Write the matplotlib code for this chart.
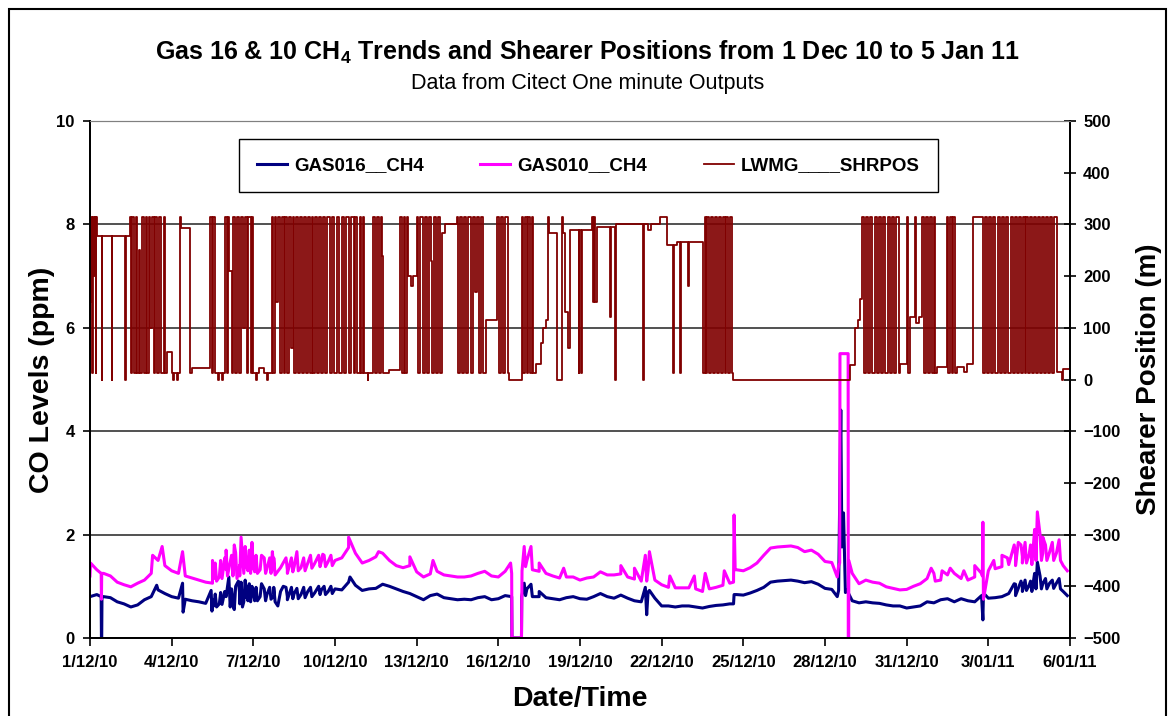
import numpy as np
import matplotlib.pyplot as plt
from matplotlib.patches import Rectangle

plt.rcParams['font.family'] = ['Liberation Sans', 'DejaVu Sans']
plt.rcParams['mathtext.fontset'] = 'custom'
plt.rcParams['mathtext.rm'] = 'Liberation Sans'
plt.rcParams['mathtext.bf'] = 'Liberation Sans:bold'

# x axis: days since 1 Dec 2010 00:00
tick_days = [0, 3, 6, 9, 12, 15, 18, 21, 24, 27, 30, 33, 36]
tick_labels = ['1/12/10', '4/12/10', '7/12/10', '10/12/10', '13/12/10', '16/12/10',
               '19/12/10', '22/12/10', '25/12/10', '28/12/10', '31/12/10', '3/01/11', '6/01/11']

# gas readings every 6 hours (one row per day)
gas_step = 0.25
gas016_base = [
    0.80, 0.84, 0.80, 0.78,  0.70, 0.66, 0.60, 0.64,  0.74, 0.80, 0.93, 0.86,
    0.80, 0.77, 0.75, 0.72,  0.70, 0.67, 0.74, 0.66,  0.80, 0.72, 0.85, 0.78,
    0.87, 0.80, 0.84, 0.82,  0.90, 0.80, 0.86, 0.84,  0.90, 0.87, 0.93, 0.90,
    0.95, 0.93, 1.08, 1.02,  0.92, 0.95, 0.96, 1.04,  1.00, 0.95, 0.90, 0.86,
    0.80, 0.74, 0.82, 0.85,  0.78, 0.76, 0.74, 0.75,  0.74, 0.78, 0.80, 0.74,
    0.76, 0.82, 0.00, 0.00,  0.82, 0.80, 0.80, 0.78,  0.76, 0.74, 0.78, 0.80,
    0.76, 0.75, 0.80, 0.86,  0.80, 0.77, 0.83, 0.77,  0.72, 0.70, 0.89, 0.77,
    0.62, 0.62, 0.60, 0.62,  0.62, 0.60, 0.58, 0.61,  0.63, 0.64, 0.66, 0.84,
    0.83, 0.87, 0.92, 0.98,  1.08, 1.10, 1.11, 1.12,  1.10, 1.07, 1.09, 1.04,
    0.96, 0.94, 0.92, 0.88,  0.72, 0.68, 0.70, 0.68,  0.67, 0.64, 0.62, 0.62,
    0.58, 0.60, 0.62, 0.70,  0.68, 0.74, 0.76, 0.70,  0.76, 0.72, 0.70, 0.82,
    0.77, 0.78, 0.80, 0.86,  1.04, 1.00, 1.02, 1.15,  1.05, 1.06, 1.06, 0.90,
]
gas010_base = [
    1.20, 1.32, 1.25, 1.20,  1.08, 1.03, 0.99, 1.06,  1.12, 1.25, 1.50, 1.40,
    1.30, 1.25, 1.20, 1.16,  1.12, 1.08, 1.06, 1.18,  1.32, 1.30, 1.41, 1.38,
    1.36, 1.32, 1.34, 1.32,  1.36, 1.32, 1.38, 1.36,  1.45, 1.44, 1.48, 1.48,
    1.50, 1.55, 1.75, 1.64,  1.45, 1.50, 1.57, 1.64,  1.50, 1.40, 1.36, 1.40,
    1.28, 1.18, 1.24, 1.29,  1.22, 1.20, 1.18, 1.18,  1.20, 1.25, 1.29, 1.20,
    1.18, 1.29, 0.00, 0.00,  1.38, 1.32, 1.29, 1.25,  1.20, 1.16, 1.18, 1.18,
    1.12, 1.16, 1.18, 1.28,  1.22, 1.22, 1.24, 1.18,  1.14, 1.10, 1.30, 1.12,
    1.03, 0.98, 0.97, 0.97,  0.97, 0.95, 0.90, 0.95,  0.98, 1.02, 1.06, 1.32,
    1.30, 1.36, 1.45, 1.60,  1.74, 1.76, 1.77, 1.78,  1.75, 1.67, 1.70, 1.62,
    1.48, 1.46, 1.40, 5.50,  1.25, 1.05, 1.12, 1.08,  1.06, 0.99, 0.96, 0.93,
    0.94, 1.00, 1.05, 1.15,  1.25, 1.12, 1.22, 1.25,  1.15, 1.12, 1.18, 1.25,
    1.30, 1.34, 1.38, 1.42,  1.60, 1.58, 1.62, 1.80,  1.64, 1.66, 1.64, 1.40,
]

# spikes, drop-outs, noisy stretches and the end of each record
gas016_extra_day = [0.41, 0.42, 0.43, 0.44, 2.45, 3.40, 3.42, 4.45, 4.48, 5.10, 5.15,
                    5.30, 5.45, 5.60, 5.75, 6.30, 6.90, 7.10, 9.55,
                    4.55, 4.60, 4.65, 4.80, 4.85, 4.95, 5.20, 5.25, 5.35, 5.50, 5.55,
                    5.65, 5.70, 5.80, 5.85, 5.90, 5.95, 6.05, 6.10, 6.15, 6.40, 6.45,
                    6.60, 6.65, 6.75, 6.80, 7.20, 7.25, 7.40, 7.45, 7.60, 7.65, 7.85,
                    7.90, 8.10, 8.15, 8.40, 8.45, 8.60, 8.65, 8.85, 8.90,
                    15.49, 15.50, 15.85, 15.86, 15.95, 16.05, 16.20, 16.50,
                    20.40, 20.45, 20.55, 23.64, 23.66,
                    27.45, 27.58, 27.62, 27.68, 27.80, 32.80, 32.82,
                    33.95, 34.00, 34.20, 34.25, 34.35, 34.40, 34.55, 34.60, 34.70,
                    34.75, 34.80, 34.90, 34.95, 35.10, 35.15, 35.35, 35.40, 35.60,
                    35.65, 35.90]
gas016_extra_val = [0.80, 0.00, 0.00, 0.80, 1.02, 1.06, 0.50, 0.92, 0.52, 1.18, 0.60,
                    0.55, 1.10, 0.60, 1.00, 1.05, 0.62, 1.00, 1.18,
                    0.62, 0.85, 0.60, 0.88, 0.65, 0.90, 0.95, 0.62, 1.00, 0.66, 1.08,
                    0.70, 1.12, 0.72, 1.05, 0.70, 1.00, 0.72, 0.98, 0.72, 0.95, 0.72,
                    0.98, 0.75, 0.98, 0.70, 0.98, 0.74, 0.98, 0.76, 0.96, 0.76, 0.98,
                    0.78, 0.98, 0.80, 1.00, 0.84, 1.00, 0.84, 1.00, 0.86,
                    0.80, 0.00, 0.00, 0.80, 1.06, 0.95, 1.04, 0.90,
                    0.98, 0.45, 0.92, 0.66, 0.84,
                    0.80, 4.41, 1.76, 2.42, 0.93, 0.35, 0.87,
                    1.05, 0.82, 1.10, 0.90, 1.12, 0.92, 1.10, 0.90, 1.25,
                    0.95, 1.47, 1.20, 0.95, 1.15, 0.95, 1.12, 0.96, 1.15,
                    0.95, 0.82]
gas010_extra_day = [0.02, 0.41, 0.42, 0.43, 2.30, 2.65, 3.40, 4.50, 5.00, 5.05, 5.30,
                    5.40, 5.55, 5.70, 5.95, 6.30, 6.70, 7.60, 8.10, 8.55, 9.50,
                    4.55, 4.60, 4.65, 4.80, 4.85, 4.95, 5.20, 5.25, 5.35, 5.50, 5.65,
                    5.80, 5.85, 5.90, 6.05, 6.10, 6.15, 6.40, 6.45, 6.60, 6.65, 6.75,
                    6.80, 7.20, 7.25, 7.40, 7.45, 7.65, 7.85, 7.90, 8.15, 8.40, 8.45,
                    8.60, 8.65, 8.85, 8.90,
                    10.60, 11.75, 12.60, 15.45, 15.49, 15.50, 15.85, 15.87, 15.95,
                    16.05, 16.20, 16.50, 17.40, 19.50, 20.00, 20.40, 20.45, 20.55,
                    21.30, 22.20, 22.60, 23.30, 23.64, 23.66, 23.70,
                    27.45, 27.54, 27.55, 27.85, 27.855, 27.87, 27.875,
                    30.90, 31.05, 31.30, 31.60, 32.10, 32.50,
                    32.78, 32.80, 32.82, 33.20, 33.50, 33.70,
                    33.95, 34.00, 34.10, 34.20, 34.25, 34.35, 34.40, 34.55, 34.60,
                    34.70, 34.75, 34.80, 34.90, 34.95, 35.00, 35.10, 35.15, 35.35,
                    35.40, 35.60, 35.65, 35.90]
gas010_extra_val = [1.45, 1.25, 0.75, 1.25, 1.60, 1.77, 1.67, 1.50, 1.70, 1.20, 1.80,
                    1.15, 1.95, 1.77, 1.85, 1.60, 1.67, 1.67, 1.60, 1.62, 1.95,
                    1.15, 1.45, 1.10, 1.50, 1.15, 1.55, 1.60, 1.20, 1.65, 1.20, 1.25,
                    1.30, 1.70, 1.25, 1.28, 1.60, 1.25, 1.55, 1.25, 1.55, 1.25, 1.55,
                    1.22, 1.55, 1.25, 1.55, 1.28, 1.30, 1.55, 1.30, 1.35, 1.60, 1.38,
                    1.60, 1.38, 1.60, 1.40,
                    1.67, 1.57, 1.50, 1.45, 1.25, 0.00, 0.00, 1.30, 1.77,
                    1.50, 1.77, 1.45, 1.35, 1.40, 1.35, 1.60, 1.10, 1.67,
                    1.20, 1.20, 1.25, 1.30, 1.08, 2.38, 1.32,
                    1.18, 1.45, 5.50, 5.50, 0.00, 0.00, 1.50,
                    1.35, 1.10, 1.30, 1.35, 1.30, 1.40,
                    1.20, 2.24, 0.75, 1.50, 1.60, 1.55,
                    1.80, 1.40, 1.85, 1.80, 1.45, 1.85, 1.45, 1.80, 1.42,
                    2.10, 1.50, 2.44, 2.00, 1.50, 1.95, 1.80, 1.50, 1.85,
                    1.50, 1.90, 1.50, 1.30]

# shearer position (m): value held from each change day
shearer_day = [
    0.00, 0.03, 0.07, 0.10, 0.14, 0.17, 0.21, 0.23, 0.25,
    0.43, 0.45, 0.80, 0.82, 1.29, 1.31,
    1.47, 1.50, 1.56, 1.62, 1.68, 1.74, 1.80, 1.85, 1.92, 1.98, 2.05, 2.10, 2.16, 2.22, 2.28,
    2.34, 2.40, 2.47, 2.55, 2.62, 2.70, 2.76,
    2.82, 3.00, 3.05, 3.08, 3.20, 3.23, 3.31, 3.35, 3.67, 3.74,
    4.41, 4.47, 4.53, 4.58, 4.70, 4.73, 4.85, 4.88,
    4.96, 5.02, 5.07, 5.12, 5.20, 5.25, 5.32, 5.40, 5.47, 5.55, 5.62, 5.68, 5.75, 5.82, 5.90,
    5.96, 6.00, 6.10, 6.13, 6.20, 6.40, 6.50, 6.53,
    6.67, 6.73, 6.79, 6.85, 6.91, 6.97, 7.04, 7.11, 7.18, 7.25, 7.32, 7.38, 7.44, 7.51,
    7.58, 7.65, 7.72, 7.79, 7.86, 7.93, 8.00, 8.07, 8.14, 8.21, 8.28, 8.35, 8.42, 8.47,
    8.55, 8.62, 8.72, 8.80, 8.90, 8.98, 9.08, 9.15, 9.25, 9.32, 9.42, 9.50, 9.60, 9.68, 9.75,
    9.82, 9.90, 9.97, 10.02, 10.05, 10.20, 10.23,
    10.41, 10.46, 10.55, 10.62, 10.70, 10.74, 10.78, 11.00,
    11.39, 11.45, 11.52, 11.58, 11.64, 11.69, 11.80, 11.85,
    12.00, 12.06, 12.14, 12.22, 12.30, 12.38, 12.46, 12.52, 12.58, 12.64, 12.72, 12.80, 12.86,
    12.92, 13.05,
    13.47, 13.52, 13.58, 13.66, 13.74, 13.82, 13.90, 13.98, 14.06, 14.14, 14.20, 14.28, 14.35,
    14.42, 14.55,
    14.94, 15.02, 15.10, 15.18, 15.26, 15.34, 15.40,
    15.86, 15.92, 15.98, 16.04, 16.10, 16.16, 16.22, 16.29,
    16.40, 16.55, 16.65, 16.75, 16.84, 16.86, 17.14,
    17.33, 17.36, 17.45, 17.55, 17.63, 17.95, 17.97, 18.05, 18.07,
    18.43, 18.47, 18.52, 18.56, 18.61, 19.10, 19.14, 19.29, 19.31, 20.33, 20.35, 20.50, 20.60,
    20.94, 21.19, 21.43, 21.46, 21.55, 21.67, 21.70, 21.98, 22.00,
    22.53, 22.58, 22.62, 22.68, 22.75, 22.82, 22.90, 22.96, 23.02, 23.10, 23.18, 23.25, 23.32,
    23.38, 23.45, 23.52, 23.58, 23.63,
    27.92, 28.10, 28.20, 28.30,
    28.35, 28.42, 28.50, 28.58, 28.66, 28.74, 28.82, 28.90, 28.98, 29.06, 29.14, 29.22, 29.30,
    29.38, 29.46, 29.54, 29.62, 29.70, 29.76,
    30.00, 30.05, 30.12, 30.30, 30.33, 30.45, 30.55, 30.62, 30.70, 30.78, 30.86, 30.93, 31.00,
    31.05, 31.10,
    31.47, 31.53, 31.60, 31.66, 31.72, 31.78, 31.84, 32.10, 32.20,
    32.45, 32.80,
    32.86, 32.94, 33.02, 33.10, 33.18, 33.26, 33.34, 33.42, 33.50, 33.58, 33.66, 33.74,
    33.82, 33.90, 33.98, 34.05, 34.12, 34.19, 34.26, 34.33, 34.40, 34.47, 34.54, 34.61,
    34.68, 34.75, 34.82, 34.89, 34.96, 35.03, 35.10, 35.18, 35.26, 35.34, 35.42, 35.51,
    35.70, 35.75, 35.95,
]
shearer_pos = [
    150, 314, 12, 314, 200, 314, 12, 314, 278,
    0, 278, 0, 278, 0, 278,
    314, 12, 314, 12, 314, 12, 250, 12, 314, 12, 314, 12, 314, 100, 314,
    12, 314, 12, 314, 12, 314, 12,
    54, 12, 0, 12, 0, 12, 314, 294, 12, 23,
    314, 12, 314, 12, 0, 12, 0, 12,
    314, 12, 314, 210, 12, 314, 12, 314, 12, 314, 100, 314, 12, 314, 12,
    314, 12, 0, 12, 23, 12, 0, 12,
    314, 12, 314, 150, 314, 12, 314, 12, 314, 12, 314, 60, 314, 12,
    314, 12, 314, 12, 314, 12, 314, 12, 314, 12, 314, 12, 314, 12,
    314, 12, 314, 12, 314, 12, 314, 12, 314, 12, 314, 12, 314, 12, 314,
    12, 314, 12, 314, 12, 0, 12,
    314, 12, 314, 12, 314, 238, 12, 18,
    314, 12, 314, 12, 314, 200, 180, 200,
    314, 12, 314, 12, 314, 12, 314, 230, 12, 314, 12, 314, 12,
    284, 300,
    314, 12, 314, 12, 314, 12, 314, 12, 314, 170, 314, 12, 314,
    12, 116,
    314, 12, 314, 12, 314, 12, 0,
    314, 12, 314, 12, 314, 12, 314, 12,
    30, 70, 100, 115, 314, 283, 0,
    314, 283, 130, 60, 290, 12, 290, 12, 290,
    314, 150, 314, 150, 295, 120, 295, 0, 300, 0, 300, 290, 300,
    314, 260, 12, 260, 265, 12, 265, 180, 265,
    12, 314, 12, 314, 12, 314, 12, 314, 12, 314, 12, 314, 12,
    314, 12, 314, 12, 0,
    29, 100, 115, 155,
    314, 12, 314, 12, 314, 12, 314, 12, 314, 12, 314, 12, 314,
    12, 314, 12, 314, 12, 30,
    314, 12, 120, 314, 110, 120, 314, 12, 314, 12, 314, 12, 314,
    12, 25,
    314, 12, 314, 12, 314, 12, 25, 15, 30,
    314, 12,
    314, 12, 314, 12, 314, 12, 314, 12, 314, 12, 314, 12,
    314, 12, 314, 12, 314, 12, 314, 12, 314, 12, 314, 12,
    314, 12, 314, 12, 314, 12, 314, 12, 314, 12, 314, 15,
    0, 20, 20,
]


def merge(base, extra_day, extra_val):
    days = np.concatenate([np.arange(len(base)) * gas_step, extra_day])
    vals = np.concatenate([base, extra_val])
    order = np.argsort(days, kind='stable')
    return days[order], vals[order]


d16, v16 = merge(gas016_base, gas016_extra_day, gas016_extra_val)
d10, v10 = merge(gas010_base, gas010_extra_day, gas010_extra_val)

fig = plt.figure(figsize=(11.71, 7.16), dpi=100)
ax = fig.add_axes([90 / 1171, 1 - 638 / 716, 980 / 1171, 517 / 716])
ax2 = ax.twinx()

ax.plot(d16, v16, color='#000080', lw=2.2, label='GAS016__CH4')
ax.plot(d10, v10, color='#FF00FF', lw=2.2, label='GAS010__CH4')
ax2.plot(shearer_day, shearer_pos, color='#800000', lw=1.3, drawstyle='steps-post',
         label='LWMG____SHRPOS')

ax.set_xlim(0, 36)
ax.set_ylim(0, 10)
ax2.set_ylim(-500, 500)
ax.set_yticks(range(0, 11, 2))
ax2.set_yticks(range(-500, 501, 100))
ax.set_xticks(tick_days)
ax.set_xticklabels(tick_labels)
for lbl in ax.get_xticklabels() + ax.get_yticklabels() + ax2.get_yticklabels():
    lbl.set_fontweight('bold')
    lbl.set_fontsize(12)
ax.tick_params(axis='x', direction='out', length=6, width=1.2, pad=6)
ax.tick_params(axis='y', direction='out', length=5, width=1.2, pad=6)
ax2.tick_params(axis='y', direction='inout', length=9, width=1.2, pad=5)

ax.grid(axis='y', color='#333333', lw=1.2)
ax.set_axisbelow(True)
for a in (ax, ax2):
    a.spines['top'].set_color('#808080')
    for s in ('left', 'right', 'bottom'):
        a.spines[s].set_linewidth(1.3)

ax.set_xlabel('Date/Time', fontsize=20.5, fontweight='bold', labelpad=12)
ax.set_ylabel('CO Levels (ppm)', fontsize=20.5, fontweight='bold', labelpad=1)
ax2.set_ylabel('Shearer Position (m)', fontsize=20, fontweight='bold', labelpad=11)

h1, l1 = ax.get_legend_handles_labels()
h2, l2 = ax2.get_legend_handles_labels()
leg = ax2.legend(h1 + h2, l1 + l2, ncol=3, loc='upper center',
                 bbox_to_anchor=(0.5085, 0.983), frameon=True, fancybox=False,
                 edgecolor='black', framealpha=1, handlelength=1.6,
                 handletextpad=0.4, columnspacing=3.0, borderpad=0.95,
                 prop={'weight': 'bold', 'size': 13.5})
leg.get_frame().set_linewidth(1.0)

fig.text(0.502, 1 - 52 / 716, r'Gas 16 & 10 CH$_{\mathbf{4}}$ Trends and Shearer Positions from 1 Dec 10 to 5 Jan 11',
         ha='center', va='center', fontsize=18, fontweight='bold')
fig.text(0.502, 1 - 84 / 716, 'Data from Citect One minute Outputs',
         ha='center', va='center', fontsize=15.5)

fig.patches.append(Rectangle((9 / 1171, -0.02), 1157 / 1171, 1 - 9 / 716 + 0.02,
                             transform=fig.transFigure, fill=False, lw=1.5, ec='black'))

fig.savefig('out.png', dpi=100)
